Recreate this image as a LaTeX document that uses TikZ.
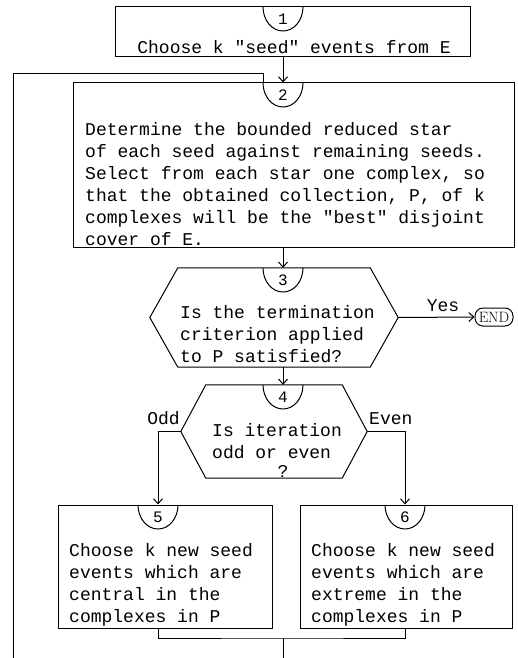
\documentclass[tikz,border=0pt]{standalone}
\usepackage{fontspec}
\setmonofont{Liberation Mono}
\usepackage{tikz}
\usetikzlibrary{arrows.meta,calc}
\tikzset{>={Straight Barb[length=5pt,width=9pt]}}
\tikzset{
  flow/.style={line width=1pt},
  stepbox/.style={draw,line width=1pt,rectangle,inner sep=0pt},
  hexbox/.style={rectangle,inner sep=0pt},
  steptext/.style={font=\fontsize{18}{22}\selectfont\ttfamily,align=left,inner sep=0pt,anchor=base west},
  capnum/.style={font=\fontsize{16}{16}\selectfont\ttfamily,inner sep=0pt},
  endbox/.style={draw,line width=1pt,rounded corners=8pt,inner sep=0pt,minimum width=38,minimum height=18,font=\fontsize{15}{15}\selectfont}
}
\newcommand{\capmark}[3]{%
  \draw[flow] (#2) ++(-20,0) arc (180:0:20 and 24);
  \node[capnum] (#1) at ($(#2)+(0,12)$) {#3};
}
\newcommand{\hexout}[2]{%
  \draw[flow] (#1.west) -- ([xshift=#2]#1.north west) -- ([xshift=-#2]#1.north east)
    -- (#1.east) -- ([xshift=-#2]#1.south east) -- ([xshift=#2]#1.south west) -- cycle;
}

\begin{document}
\begin{tikzpicture}[x=1pt,y=-1pt]
\useasboundingbox (0,0) rectangle (518,658);
% step 1
\node[stepbox,minimum width=355,minimum height=50] (box1) at (292.5,32) {};
\capmark{cap1}{283,7}{1}
\node[steptext,anchor=base] (txt1) at (294,54) {Choose k "seed" events from E};
% step 2
\node[stepbox,minimum width=441,minimum height=164] (box2) at (293.5,165) {};
\capmark{cap2}{283,83}{2}
\node[steptext] (txt2) at (85,245) {Determine the bounded reduced star\\
of each seed against remaining seeds.\\
Select from each star one complex, so\\
that the obtained collection, P, of k\\
complexes will be the "best" disjoint\\
cover of E.};
% step 3
\node[hexbox,minimum width=248,minimum height=99] (q3) at (274,317.5) {};
\hexout{q3}{28}
\capmark{cap3}{283,268}{3}
\node[steptext] (txt3) at (180,362) {Is the termination\\criterion applied\\to P satisfied?};
\node[endbox] (fin) at (494,317) {END};
\node[steptext,anchor=base] (yes) at (443,311) {Yes};
% step 4
\node[hexbox,minimum width=186,minimum height=93] (q4) at (274,431.5) {};
\hexout{q4}{25}
\capmark{cap4}{283,385}{4}
\node[steptext] (txt4) at (212,458) {Is iteration\\odd or even};
\node[steptext,anchor=base] (qmark) at (283,477) {?};
\node[steptext,anchor=base east] (odd) at (180,424) {Odd};
\node[steptext] (even) at (369,424) {Even};
% steps 5 and 6
\node[stepbox,minimum width=214,minimum height=123] (box5) at (165,566.5) {};
\capmark{cap5}{158,505}{5}
\node[steptext] (txt5) at (69,622) {Choose k new seed\\events which are\\central in the\\complexes in P};
\node[stepbox,minimum width=212,minimum height=123] (box6) at (406,566.5) {};
\capmark{cap6}{405,505}{6}
\node[steptext] (txt6) at (311,622) {Choose k new seed\\events which are\\extreme in the\\complexes in P};
% connectors
\coordinate (loopend) at (13,658);
\coordinate (join) at (283,638);
\coordinate (exit) at (283,658);
\draw[flow,->] (cap1 |- box1.south) -- (cap1 |- box2.north);
\draw[flow] (loopend) |- ([xshift=-20pt,yshift=9pt]cap2 |- box2.north) -- ([xshift=-20pt]cap2 |- box2.north);
\draw[flow,->] (cap2 |- box2.south) -- (cap2 |- q3.north);
\draw[flow,->] (q3.east) -- (fin.west);
\draw[flow,->] (cap3 |- q3.south) -- (cap3 |- q4.north);
\draw[flow,->] (q4.west) -| (cap5 |- box5.north);
\draw[flow,->] (q4.east) -| (cap6 |- box6.north);
\draw[flow] (cap5 |- box5.south) |- (join) -| (cap6 |- box6.south);
\draw[flow] (join) -- (exit);
\end{tikzpicture}
\end{document}
